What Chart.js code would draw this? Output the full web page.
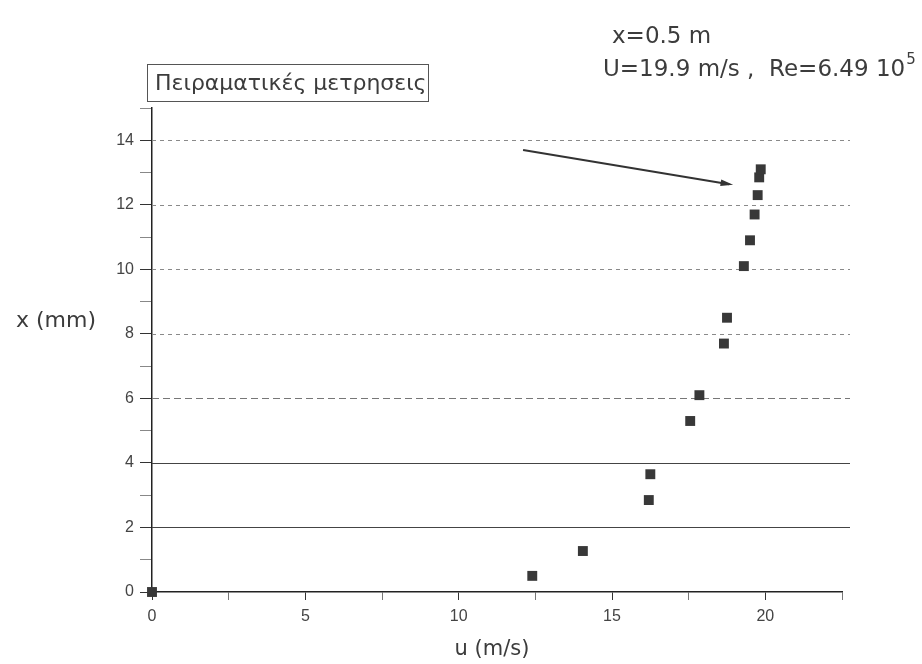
<!DOCTYPE html>
<html>
<head>
<meta charset="utf-8">
<script src="https://cdn.jsdelivr.net/npm/chart.js@4.4.0/dist/chart.umd.min.js"></script>
<style>
  html, body { margin: 0; padding: 0; background: #fff; }
</style>
</head>
<body>
<canvas id="mycanvas" width="922" height="664"></canvas>
<script>
var u_values = [0, 12.4, 14.05, 16.2, 16.25, 17.55, 17.85, 18.65, 18.75, 19.3, 19.5, 19.65, 19.75, 19.8, 19.85];
var x_values = [0, 0.5, 1.27, 2.85, 3.65, 5.3, 6.1, 7.7, 8.5, 10.1, 10.9, 11.7, 12.3, 12.85, 13.1];

var x_ticks = [0, 5, 10, 15, 20];
var y_ticks = [0, 2, 4, 6, 8, 10, 12, 14];
var grid_values = [2, 4, 6, 8, 10, 12, 14];

var legend_label = "Πειραματικές μετρησεις";
var info_line1 = "x=0.5 m";
var info_line2 = "U=19.9 m/s ,  Re=6.49 10";
var info_exp = "5";
var arrow_from = {u: 12.1, x: 13.7};
var arrow_to = {u: 18.95, x: 12.62};

var points = [];
for (var i in u_values) {
  points.push({x: u_values[i], y: x_values[i]});
}

var tickFont = "'Liberation Sans', Arial, sans-serif";
var textFont = "'DejaVu Sans', sans-serif";

var gridPlugin = {
  id: 'gridlines',
  beforeDatasetsDraw: function(chart) {
    var ctx = chart.ctx;
    var xs = chart.scales.x, ys = chart.scales.y;
    ctx.save();
    for (var i in grid_values) {
      var v = grid_values[i];
      var py = Math.round(ys.getPixelForValue(v)) + 0.5;
      if (v <= 4) {
        ctx.strokeStyle = '#444';
        ctx.setLineDash([]);
      } else if (v == 6) {
        ctx.strokeStyle = '#777';
        ctx.setLineDash([7, 4]);
      } else {
        ctx.strokeStyle = '#8a8a8a';
        ctx.setLineDash([4, 4]);
      }
      ctx.lineWidth = 1;
      ctx.beginPath();
      ctx.moveTo(xs.left, py);
      ctx.lineTo(xs.right + 8, py);
      ctx.stroke();
    }
    ctx.restore();
  }
};

var notesPlugin = {
  id: 'notes',
  afterDraw: function(chart) {
    var ctx = chart.ctx;
    var xs = chart.scales.x, ys = chart.scales.y;
    ctx.save();
    ctx.fillStyle = '#3c3c3c';
    ctx.textBaseline = 'alphabetic';
    ctx.textAlign = 'left';

    // legend box
    ctx.strokeStyle = '#555';
    ctx.lineWidth = 1;
    ctx.strokeRect(147.5, 64.5, 281, 37);
    ctx.font = "22px " + textFont;
    ctx.fillText(legend_label, 155, 90);

    // info text top right
    ctx.font = "23px " + textFont;
    ctx.fillText(info_line1, 612, 43);
    ctx.fillText(info_line2, 603, 76);
    var w = ctx.measureText(info_line2).width;
    ctx.font = "15px " + textFont;
    ctx.fillText(info_exp, 603 + w + 1, 64);

    // axis titles
    ctx.font = "22px " + textFont;
    ctx.fillText("x (mm)", 16, 327);
    ctx.textAlign = 'center';
    ctx.font = "21px " + textFont;
    ctx.fillText("u (m/s)", 492, 655);

    // arrow
    var x1 = xs.getPixelForValue(arrow_from.u), y1 = ys.getPixelForValue(arrow_from.x);
    var x2 = xs.getPixelForValue(arrow_to.u), y2 = ys.getPixelForValue(arrow_to.x);
    var a = Math.atan2(y2 - y1, x2 - x1);
    ctx.strokeStyle = '#333';
    ctx.fillStyle = '#333';
    ctx.lineWidth = 2;
    ctx.beginPath();
    ctx.moveTo(x1, y1);
    ctx.lineTo(x2 - 4 * Math.cos(a), y2 - 4 * Math.sin(a));
    ctx.stroke();
    ctx.beginPath();
    ctx.moveTo(x2, y2);
    ctx.lineTo(x2 - 13 * Math.cos(a - 0.25), y2 - 13 * Math.sin(a - 0.25));
    ctx.lineTo(x2 - 13 * Math.cos(a + 0.25), y2 - 13 * Math.sin(a + 0.25));
    ctx.closePath();
    ctx.fill();
    ctx.restore();
  }
};

var ctx = document.getElementById('mycanvas');

var ScatterGraph = new Chart(ctx, {
  type: 'scatter',
  data: {
    datasets: [{
      label: legend_label,
      data: points,
      pointStyle: 'rect',
      pointRadius: 7,
      pointHoverRadius: 7,
      backgroundColor: '#383838',
      borderColor: '#383838',
      borderWidth: 0,
      clip: false
    }]
  },
  options: {
    responsive: false,
    animation: false,
    devicePixelRatio: 1,
    layout: { padding: { left: 0, right: 80, top: 108, bottom: 0 } },
    plugins: {
      legend: { display: false },
      tooltip: { enabled: false }
    },
    scales: {
      x: {
        type: 'linear',
        min: 0,
        max: 22.5,
        afterFit: function(s) { s.height = 72; },
        border: { display: true, color: '#222', width: 1.5 },
        grid: {
          drawOnChartArea: false, drawTicks: true, tickLength: 8,
          tickColor: function(c) { return x_ticks.indexOf(c.tick.value) >= 0 ? '#333' : '#777'; },
          tickWidth: 1
        },
        ticks: {
          stepSize: 2.5,
          padding: 7,
          color: '#444',
          font: { family: tickFont, size: 16 },
          maxRotation: 0,
          autoSkip: false,
          callback: function(v) { return x_ticks.indexOf(v) >= 0 ? String(v) : ''; }
        }
      },
      y: {
        type: 'linear',
        min: 0,
        max: 15,
        afterFit: function(s) { s.width = 152; },
        border: { display: true, color: '#222', width: 1.5 },
        grid: {
          drawOnChartArea: false, drawTicks: true, tickLength: 12,
          tickColor: function(c) { return y_ticks.indexOf(c.tick.value) >= 0 ? '#333' : '#888'; },
          tickWidth: 1
        },
        ticks: {
          stepSize: 1,
          padding: 6,
          color: '#444',
          font: { family: tickFont, size: 16 },
          autoSkip: false,
          callback: function(v) { return y_ticks.indexOf(v) >= 0 ? String(v) : ''; }
        }
      }
    }
  },
  plugins: [gridPlugin, notesPlugin]
});
</script>
</body>
</html>
